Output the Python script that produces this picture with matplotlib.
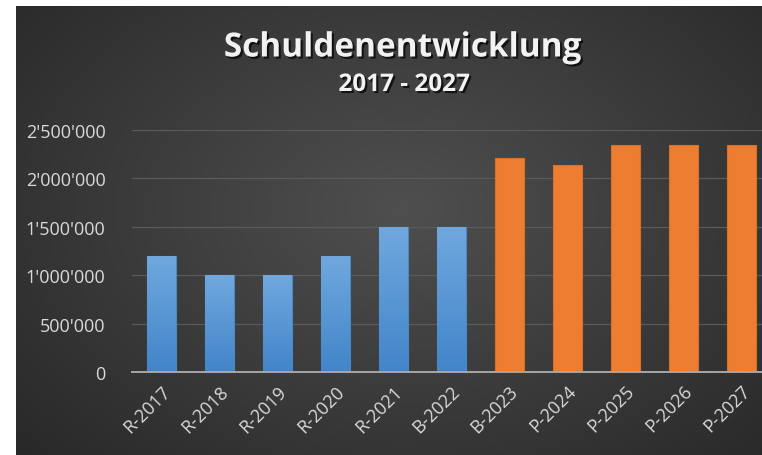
import numpy as np
import matplotlib.pyplot as plt
import matplotlib.patheffects as pe
from matplotlib.ticker import FuncFormatter

# data
categories = ['R-2017', 'R-2018', 'R-2019', 'R-2020', 'R-2021', 'B-2022',
              'B-2023', 'P-2024', 'P-2025', 'P-2026', 'P-2027']
debt = [1200000, 1000000, 1000000, 1200000, 1500000, 1500000,
        2210000, 2135000, 2340000, 2340000, 2340000]
n_blue = 6  # first six bars are actuals/budget (blue), rest planned (orange)

W, H = 762, 456
fig = plt.figure(figsize=(W / 100, H / 100), dpi=100)
fig.patch.set_facecolor('white')

# dark radial gradient background (white strip on top and left)
bg = fig.add_axes([16 / W, 0, 1 - 16 / W, 1 - 7 / H])
yy, xx = np.mgrid[0:1:300j, 0:1:500j]
r = np.sqrt(((xx - 0.52) / 0.75) ** 2 + ((yy - 0.45) / 0.85) ** 2)
shade = np.clip(0.31 - 0.16 * r, 0.15, 0.31)
bg.imshow(np.dstack([shade] * 3), aspect='auto', extent=[0, 1, 0, 1],
          interpolation='bilinear')
bg.set_axis_off()

ax = fig.add_axes([132 / W, 1 - 373 / H, (770 - 132) / W, (373 - 131) / H])
ax.set_facecolor('none')

x = np.arange(len(categories))
colors = ['#5b9bd5'] * n_blue + ['#ed7d31'] * (len(categories) - n_blue)
edges = ['#4a88c4'] * n_blue + ['#d9702a'] * (len(categories) - n_blue)
bars = ax.bar(x, debt, width=0.5, color=colors, edgecolor=edges, linewidth=0.8,
              zorder=3)

# vertical gradient on the blue bars
grad = np.linspace(0, 1, 100).reshape(-1, 1)
top_c = np.array([0.44, 0.66, 0.87])
bot_c = np.array([0.26, 0.52, 0.79])
grad_img = bot_c * (1 - grad[..., None]) + top_c * grad[..., None]
for b in bars[:n_blue]:
    x0, y0 = b.get_x(), b.get_y()
    im = ax.imshow(grad_img, extent=[x0, x0 + b.get_width(), y0, y0 + b.get_height()],
                   origin='lower', aspect='auto', zorder=3.5)
    im.set_clip_path(b)

ax.set_xlim(-0.5, len(categories) - 0.5)
ax.set_ylim(0, 2500000)
ax.set_yticks(np.arange(0, 2500001, 500000))
ax.yaxis.set_major_formatter(FuncFormatter(lambda v, p: f"{int(v):,}".replace(',', "'")))
ax.grid(axis='y', color='#5a5a5a', linewidth=0.9, zorder=0)
ax.set_axisbelow(True)

for s in ['top', 'right', 'left']:
    ax.spines[s].set_visible(False)
ax.spines['bottom'].set_color('#a6a6a6')
ax.spines['bottom'].set_linewidth(1.4)
ax.spines['bottom'].set_zorder(5)

ax.set_xticks(x)
ax.set_xticklabels(categories, rotation=45, ha='right', rotation_mode='anchor')
ax.tick_params(axis='both', length=0, colors='#d9d9d9', labelsize=13)
ax.tick_params(axis='y', pad=19)
ax.tick_params(axis='x', pad=7)
for lbl in ax.get_xticklabels() + ax.get_yticklabels():
    lbl.set_fontfamily('Open Sans')

shadow = [pe.withSimplePatchShadow(offset=(1.5, -1.5), shadow_rgbFace='black', alpha=0.7)]
fig.text(403 / W, 1 - 49 / H, 'Schuldenentwicklung', color='#f2f2f2', fontsize=24,
         fontweight='bold', family='Open Sans', ha='center', va='center', path_effects=shadow)
fig.text(404 / W, 1 - 86 / H, '2017 - 2027', color='#f2f2f2', fontsize=17.5,
         fontweight='bold', family='Open Sans', ha='center', va='center', path_effects=shadow)

fig.savefig('out.png', dpi=100, facecolor=fig.get_facecolor())
